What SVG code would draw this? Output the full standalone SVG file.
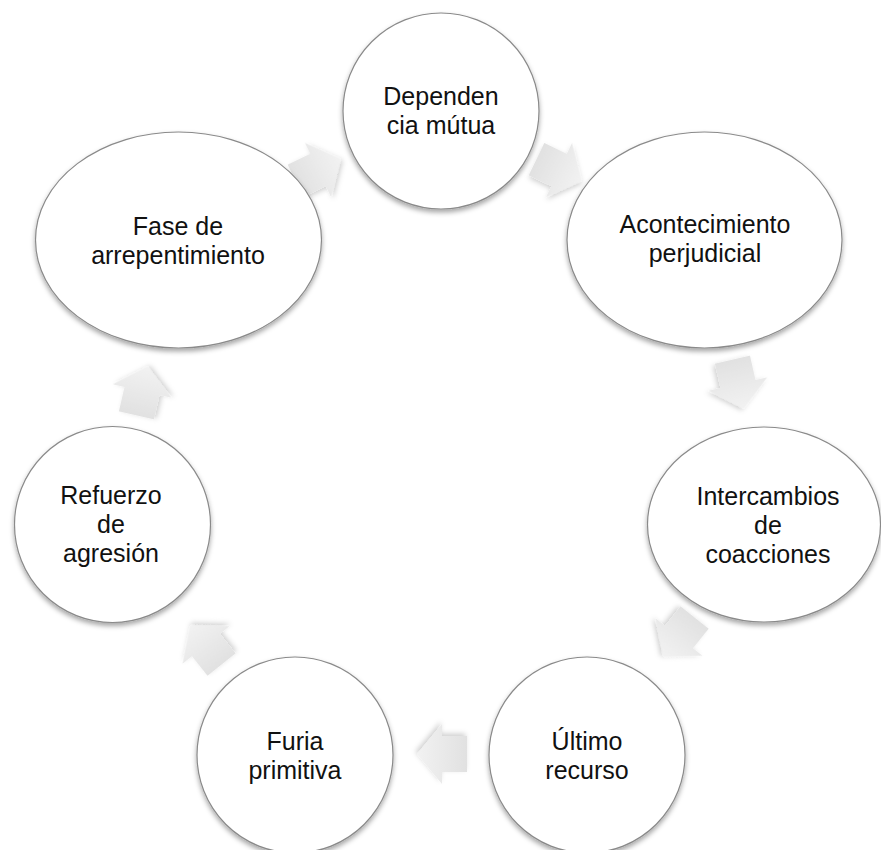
<svg xmlns="http://www.w3.org/2000/svg" xmlns:xlink="http://www.w3.org/1999/xlink" width="881" height="850" viewBox="0 0 881 850">
  <defs>
    <style>
      .node { fill: #ffffff; stroke: #8a8a8a; stroke-width: 1.2; filter: url(#shadow); }
      .label { font-family: "Liberation Sans", Arial, sans-serif; font-size: 25px; fill: #111111; text-anchor: middle; }
      .arrow { fill: url(#arrowGrad); filter: url(#ashadow); }
    </style>
    <filter id="shadow" x="-20%" y="-20%" width="140%" height="140%">
      <feDropShadow dx="0" dy="3" stdDeviation="2.5" flood-color="#000000" flood-opacity="0.35"/>
    </filter>
    <filter id="ashadow" x="-30%" y="-30%" width="160%" height="160%">
      <feDropShadow dx="1.5" dy="2.5" stdDeviation="2.5" flood-color="#000000" flood-opacity="0.18"/>
    </filter>
    <linearGradient id="arrowGrad" x1="0" y1="0" x2="1" y2="0">
      <stop offset="0" stop-color="#e1e1e1"/>
      <stop offset="1" stop-color="#f2f2f2"/>
    </linearGradient>
    <polygon id="arrowShape" points="-25,-18 0,-18 0,-30 25,0 0,30 0,18 -25,18"/>
  </defs>
  <rect x="0" y="0" width="881" height="850" fill="#ffffff"/>

  <g id="connectors">
    <use xlink:href="#arrowShape" href="#arrowShape" class="arrow" transform="translate(318,170) rotate(-25.7)"/>
    <use xlink:href="#arrowShape" href="#arrowShape" class="arrow" transform="translate(559,170) rotate(25.7)"/>
    <use xlink:href="#arrowShape" href="#arrowShape" class="arrow" transform="translate(738,384) rotate(77.1)"/>
    <use xlink:href="#arrowShape" href="#arrowShape" class="arrow" transform="translate(679,637) rotate(128.6)"/>
    <use xlink:href="#arrowShape" href="#arrowShape" class="arrow" transform="translate(442,754) rotate(180)"/>
    <use xlink:href="#arrowShape" href="#arrowShape" class="arrow" transform="translate(206,645) rotate(231.4)"/>
    <use xlink:href="#arrowShape" href="#arrowShape" class="arrow" transform="translate(142,391) rotate(282.9)"/>
  </g>

  <g id="node-dependencia">
    <circle class="node" cx="441" cy="111" r="98"/>
    <text class="label"><tspan x="441" y="105">Dependen</tspan><tspan x="441" y="134">cia mútua</tspan></text>
  </g>

  <g id="node-acontecimiento">
    <ellipse class="node" cx="704.5" cy="240" rx="137.5" ry="108"/>
    <text class="label"><tspan x="705" y="233">Acontecimiento</tspan><tspan x="705" y="262">perjudicial</tspan></text>
  </g>

  <g id="node-intercambios">
    <ellipse class="node" cx="764" cy="524.5" rx="116.5" ry="97.5"/>
    <text class="label"><tspan x="768" y="505">Intercambios</tspan><tspan x="768" y="534">de</tspan><tspan x="768" y="563">coacciones</tspan></text>
  </g>

  <g id="node-ultimo">
    <circle class="node" cx="587" cy="755" r="98"/>
    <text class="label"><tspan x="587" y="750">Último</tspan><tspan x="587" y="779">recurso</tspan></text>
  </g>

  <g id="node-furia">
    <circle class="node" cx="295" cy="755" r="98"/>
    <text class="label"><tspan x="295" y="750">Furia</tspan><tspan x="295" y="779">primitiva</tspan></text>
  </g>

  <g id="node-refuerzo">
    <circle class="node" cx="112.5" cy="524.5" r="98"/>
    <text class="label"><tspan x="111" y="504">Refuerzo</tspan><tspan x="111" y="533">de</tspan><tspan x="111" y="562">agresión</tspan></text>
  </g>

  <g id="node-fase">
    <ellipse class="node" cx="178.5" cy="240" rx="143" ry="108"/>
    <text class="label"><tspan x="178" y="235">Fase de</tspan><tspan x="178" y="264">arrepentimiento</tspan></text>
  </g>
</svg>
